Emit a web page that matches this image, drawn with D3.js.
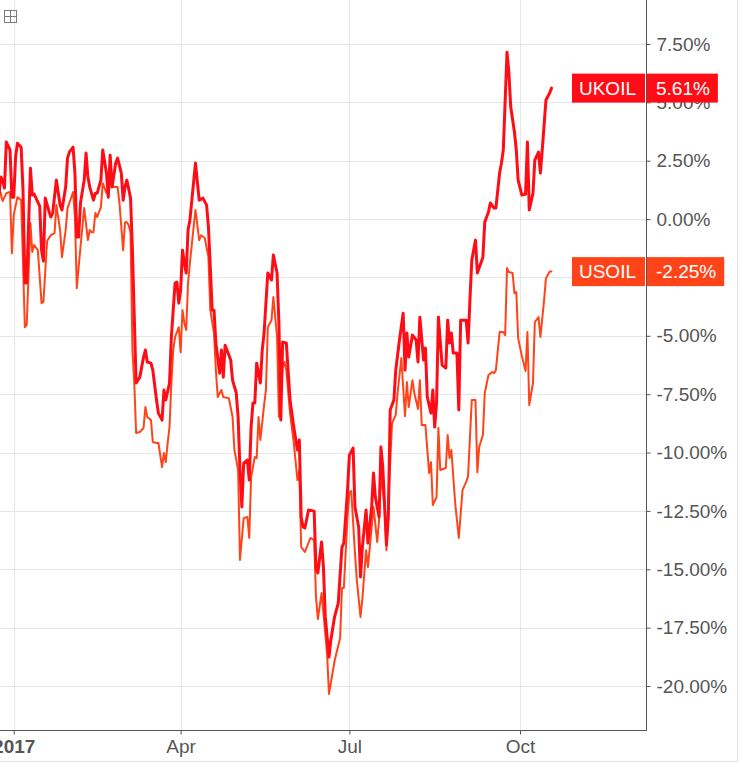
<!DOCTYPE html>
<html><head><meta charset="utf-8">
<script src="https://cdn.jsdelivr.net/npm/d3@7"></script>
<style>
html,body{margin:0;padding:0;background:#fff;}
svg{display:block;font-family:"Liberation Sans",Arial,sans-serif;}
</style></head><body>
<svg id="chart" width="739" height="763"></svg>
<script>
// ---------- DATA (percent change) ----------
const seriesNames = ["UKOIL", "USOIL"];
const seriesColors = ["#ff0d16", "#ff4419"];
const lastValueLabels = ["5.61%", "-2.25%"];

const ukDates = ["2016-12-23","2016-12-25","2016-12-26","2016-12-27","2016-12-28","2016-12-30","2016-12-31","2017-01-01","2017-01-02","2017-01-03","2017-01-05","2017-01-06","2017-01-07","2017-01-08","2017-01-10","2017-01-11","2017-01-12","2017-01-14","2017-01-15","2017-01-16","2017-01-17","2017-01-18","2017-01-20","2017-01-21","2017-01-22","2017-01-24","2017-01-26","2017-01-27","2017-01-29","2017-01-30","2017-01-31","2017-02-02","2017-02-03","2017-02-04","2017-02-05","2017-02-06","2017-02-08","2017-02-09","2017-02-10","2017-02-11","2017-02-13","2017-02-14","2017-02-15","2017-02-17","2017-02-18","2017-02-20","2017-02-21","2017-02-22","2017-02-23","2017-02-25","2017-02-26","2017-02-28","2017-03-01","2017-03-02","2017-03-03","2017-03-05","2017-03-06","2017-03-07","2017-03-08","2017-03-10","2017-03-12","2017-03-13","2017-03-14","2017-03-16","2017-03-17","2017-03-19","2017-03-20","2017-03-22","2017-03-23","2017-03-24","2017-03-26","2017-03-27","2017-03-28","2017-03-29","2017-03-30","2017-03-31","2017-04-01","2017-04-02","2017-04-03","2017-04-04","2017-04-05","2017-04-06","2017-04-08","2017-04-09","2017-04-11","2017-04-13","2017-04-15","2017-04-16","2017-04-17","2017-04-18","2017-04-19","2017-04-20","2017-04-22","2017-04-23","2017-04-24","2017-04-25","2017-04-28","2017-04-29","2017-05-01","2017-05-02","2017-05-03","2017-05-04","2017-05-05","2017-05-07","2017-05-08","2017-05-09","2017-05-10","2017-05-11","2017-05-12","2017-05-14","2017-05-15","2017-05-16","2017-05-18","2017-05-20","2017-05-21","2017-05-23","2017-05-24","2017-05-25","2017-05-26","2017-05-28","2017-05-30","2017-06-01","2017-06-03","2017-06-04","2017-06-05","2017-06-06","2017-06-07","2017-06-09","2017-06-12","2017-06-13","2017-06-14","2017-06-16","2017-06-17","2017-06-18","2017-06-20","2017-06-21","2017-06-23","2017-06-25","2017-06-27","2017-06-28","2017-06-30","2017-07-01","2017-07-03","2017-07-04","2017-07-06","2017-07-07","2017-07-08","2017-07-10","2017-07-11","2017-07-13","2017-07-14","2017-07-15","2017-07-17","2017-07-18","2017-07-19","2017-07-21","2017-07-22","2017-07-23","2017-07-25","2017-07-26","2017-07-28","2017-07-30","2017-07-31","2017-08-01","2017-08-02","2017-08-04","2017-08-06","2017-08-07","2017-08-08","2017-08-10","2017-08-11","2017-08-12","2017-08-14","2017-08-15","2017-08-16","2017-08-17","2017-08-18","2017-08-20","2017-08-22","2017-08-23","2017-08-24","2017-08-25","2017-08-26","2017-08-28","2017-08-29","2017-08-30","2017-09-02","2017-09-03","2017-09-04","2017-09-05","2017-09-07","2017-09-08","2017-09-11","2017-09-12","2017-09-14","2017-09-15","2017-09-17","2017-09-18","2017-09-20","2017-09-21","2017-09-22","2017-09-24","2017-09-25","2017-09-26","2017-09-28","2017-09-29","2017-09-30","2017-10-02","2017-10-04","2017-10-05","2017-10-06","2017-10-08","2017-10-09","2017-10-11","2017-10-12","2017-10-13","2017-10-15","2017-10-17","2017-10-18"];
const ukValues = [0.17,1.80,1.67,1.33,3.30,2.96,0.94,0.94,2.66,3.25,3.08,1.24,-2.74,-2.74,2.18,1.03,1.07,0.73,0.56,-1.33,-1.80,0.90,0.34,0.09,0.26,1.67,0.60,0.39,1.37,2.61,2.87,3.08,1.97,-0.77,-0.77,0.69,1.67,2.83,1.80,1.37,0.81,1.11,1.11,1.67,2.96,1.97,0.94,2.74,1.37,2.40,2.61,1.97,0.81,1.37,1.67,0.90,-1.33,-4.20,-7.02,-6.77,-5.91,-5.61,-6.12,-6.17,-6.47,-7.75,-8.31,-8.61,-7.32,-7.75,-7.02,-5.05,-3.90,-2.74,-2.70,-3.60,-3.04,-1.33,-1.88,-2.31,-0.47,-0.04,1.58,2.40,0.81,0.90,0.60,-0.34,-2.06,-3.90,-3.90,-5.31,-6.60,-5.61,-6.77,-5.40,-6.04,-6.90,-7.45,-8.48,-10.75,-12.33,-10.45,-10.32,-11.18,-8.91,-7.88,-7.88,-6.17,-7.02,-5.61,-4.88,-2.31,-2.61,-1.54,-2.31,-4.45,-8.61,-5.27,-5.31,-7.75,-8.91,-9.89,-9.46,-12.76,-13.19,-13.23,-12.46,-12.51,-14.95,-15.16,-13.83,-14.90,-17.04,-18.76,-18.03,-17.04,-16.45,-14.05,-13.88,-11.61,-10.11,-9.81,-12.33,-13.19,-15.33,-14.05,-12.46,-13.88,-12.33,-10.88,-11.91,-12.76,-9.76,-10.62,-13.96,-12.76,-8.18,-7.75,-6.47,-5.18,-4.03,-6.47,-4.88,-5.91,-4.97,-5.18,-6.12,-4.20,-6.04,-5.52,-7.62,-8.31,-7.32,-8.91,-7.88,-4.20,-6.25,-6.38,-4.33,-5.31,-4.88,-5.74,-5.74,-8.18,-4.33,-4.33,-5.31,-3.47,-1.76,-0.90,-2.31,-1.63,-0.13,0.30,0.69,0.47,0.47,1.97,2.40,2.96,7.15,6.30,4.80,3.73,2.96,1.67,1.03,1.07,3.30,0.39,1.11,2.53,2.87,1.97,2.96,5.10,5.40,5.61];

const usDates = ["2016-12-23","2016-12-25","2016-12-26","2016-12-28","2016-12-30","2016-12-31","2017-01-01","2017-01-03","2017-01-05","2017-01-06","2017-01-07","2017-01-08","2017-01-10","2017-01-11","2017-01-12","2017-01-14","2017-01-16","2017-01-17","2017-01-19","2017-01-20","2017-01-21","2017-01-23","2017-01-24","2017-01-26","2017-01-27","2017-01-29","2017-01-30","2017-01-31","2017-02-02","2017-02-03","2017-02-04","2017-02-05","2017-02-07","2017-02-08","2017-02-10","2017-02-11","2017-02-12","2017-02-13","2017-02-14","2017-02-15","2017-02-17","2017-02-18","2017-02-20","2017-02-21","2017-02-22","2017-02-24","2017-02-26","2017-02-27","2017-03-01","2017-03-02","2017-03-03","2017-03-04","2017-03-05","2017-03-06","2017-03-07","2017-03-08","2017-03-10","2017-03-12","2017-03-13","2017-03-14","2017-03-16","2017-03-17","2017-03-19","2017-03-20","2017-03-22","2017-03-23","2017-03-24","2017-03-25","2017-03-26","2017-03-27","2017-03-28","2017-03-29","2017-03-31","2017-04-01","2017-04-02","2017-04-03","2017-04-04","2017-04-05","2017-04-06","2017-04-08","2017-04-09","2017-04-11","2017-04-12","2017-04-14","2017-04-16","2017-04-17","2017-04-19","2017-04-20","2017-04-21","2017-04-23","2017-04-24","2017-04-27","2017-04-29","2017-04-30","2017-05-02","2017-05-03","2017-05-05","2017-05-07","2017-05-08","2017-05-09","2017-05-11","2017-05-12","2017-05-13","2017-05-14","2017-05-16","2017-05-17","2017-05-18","2017-05-20","2017-05-21","2017-05-23","2017-05-24","2017-05-26","2017-05-27","2017-05-28","2017-05-30","2017-06-01","2017-06-03","2017-06-04","2017-06-05","2017-06-07","2017-06-10","2017-06-12","2017-06-13","2017-06-14","2017-06-16","2017-06-17","2017-06-19","2017-06-20","2017-06-21","2017-06-23","2017-06-26","2017-06-27","2017-06-28","2017-06-30","2017-07-01","2017-07-02","2017-07-04","2017-07-05","2017-07-07","2017-07-08","2017-07-10","2017-07-11","2017-07-13","2017-07-14","2017-07-16","2017-07-17","2017-07-18","2017-07-20","2017-07-21","2017-07-22","2017-07-24","2017-07-26","2017-07-27","2017-07-29","2017-07-31","2017-08-01","2017-08-02","2017-08-04","2017-08-05","2017-08-07","2017-08-08","2017-08-09","2017-08-11","2017-08-13","2017-08-14","2017-08-15","2017-08-17","2017-08-18","2017-08-19","2017-08-22","2017-08-23","2017-08-24","2017-08-25","2017-08-27","2017-08-28","2017-08-29","2017-08-31","2017-09-02","2017-09-03","2017-09-05","2017-09-07","2017-09-08","2017-09-09","2017-09-11","2017-09-12","2017-09-14","2017-09-16","2017-09-17","2017-09-18","2017-09-20","2017-09-22","2017-09-23","2017-09-24","2017-09-25","2017-09-27","2017-09-28","2017-09-29","2017-09-30","2017-10-02","2017-10-04","2017-10-05","2017-10-06","2017-10-08","2017-10-09","2017-10-11","2017-10-12","2017-10-14","2017-10-15","2017-10-17","2017-10-18"];
const usValues = [1.46,1.11,0.77,1.11,1.16,-1.46,0.17,0.94,0.81,-1.88,-4.63,-4.54,-0.17,-1.41,-1.11,-1.33,-3.60,-3.55,-0.94,-0.81,-0.69,-0.60,0.60,-0.47,-1.63,-0.47,0.47,0.69,1.16,0.09,-2.96,-2.06,-0.34,0.47,-0.90,-0.47,-0.56,-0.56,0.26,0.09,0.51,1.54,1.11,1.37,1.67,1.37,1.37,0.69,-1.33,-0.13,-0.13,-0.26,-0.60,-5.61,-7.02,-9.16,-9.12,-8.95,-8.05,-8.48,-8.61,-9.55,-9.59,-9.59,-10.62,-10.02,-10.41,-9.59,-8.91,-7.02,-5.61,-5.05,-4.63,-5.70,-3.90,-4.45,-4.75,-2.74,-1.88,-0.34,0.39,-0.90,-0.69,-0.81,-1.63,-3.90,-4.88,-6.47,-7.62,-7.32,-7.62,-7.67,-8.48,-9.89,-10.75,-14.60,-12.81,-12.76,-13.66,-11.05,-10.19,-10.24,-8.48,-9.46,-7.97,-7.32,-4.63,-4.33,-3.34,-5.05,-8.48,-6.34,-6.12,-6.47,-8.31,-9.59,-11.18,-10.75,-14.05,-14.26,-13.66,-13.75,-16.19,-17.13,-16.02,-16.87,-18.67,-20.34,-19.87,-18.93,-17.94,-15.80,-15.80,-12.76,-11.69,-11.65,-14.30,-15.46,-17.04,-16.27,-14.18,-14.90,-13.23,-12.33,-13.83,-12.89,-10.88,-12.33,-14.18,-12.16,-8.74,-8.39,-7.45,-5.95,-8.44,-6.98,-8.05,-6.90,-7.45,-8.14,-6.90,-8.82,-8.82,-10.88,-10.41,-12.25,-11.91,-8.95,-10.75,-10.66,-9.25,-10.24,-9.89,-12.12,-12.89,-13.66,-11.61,-11.26,-11.01,-7.75,-7.75,-10.84,-9.76,-9.25,-7.45,-6.68,-6.55,-6.60,-6.47,-4.84,-4.84,-4.97,-2.10,-2.27,-2.31,-3.17,-3.13,-5.10,-5.87,-6.51,-4.84,-7.97,-7.02,-4.41,-4.20,-5.05,-3.47,-2.53,-2.25,-2.25];

const yTickValues = [7.5, 5, 2.5, 0, -2.5, -5, -7.5, -10, -12.5, -15, -17.5, -20];
const xTickDates = ["2017-01-01", "2017-04-01", "2017-07-01", "2017-10-01"];
const xTickLabels = ["2017", "Apr", "Jul", "Oct"];
const xDomain = ["2016-12-24", "2017-12-08"];
const yDomain = [-20, 7.5];

// ---------- LAYOUT ----------
const plotRight = 646, plotBottom = 730;
const parse = d3.timeParse("%Y-%m-%d");
const x = d3.scaleTime().domain(xDomain.map(parse)).range([-1.1, 646.1]);
const y = d3.scaleLinear().domain(yDomain).range([686, 44]);

const svg = d3.select("#chart");
const gridColor = "#e6e6e6", axisColor = "#555", textColor = "#555";

// outer frame (right / bottom)
svg.append("line").attr("x1", 737.5).attr("x2", 737.5).attr("y1", 0).attr("y2", 762)
  .attr("stroke", "#e3e3e3");
svg.append("line").attr("x1", 0).attr("x2", 738).attr("y1", 761.5).attr("y2", 761.5)
  .attr("stroke", "#e3e3e3");

// grid
svg.append("g").selectAll("line").data(yTickValues).join("line")
  .attr("x1", 0).attr("x2", plotRight)
  .attr("y1", d => Math.round(y(d)) + 0.5).attr("y2", d => Math.round(y(d)) + 0.5)
  .attr("stroke", gridColor);
svg.append("g").selectAll("line").data(xTickDates).join("line")
  .attr("y1", 0).attr("y2", plotBottom)
  .attr("x1", d => Math.round(x(parse(d))) + 0.5).attr("x2", d => Math.round(x(parse(d))) + 0.5)
  .attr("stroke", gridColor);

// icon top-left
const icon = svg.append("g").attr("stroke", "#7a7a7a").attr("fill", "none");
icon.append("rect").attr("x", 4.5).attr("y", 10.5).attr("width", 12).attr("height", 12);
icon.append("line").attr("x1", 4.5).attr("x2", 16.5).attr("y1", 16.5).attr("y2", 16.5);
icon.append("line").attr("x1", 10.5).attr("x2", 10.5).attr("y1", 10.5).attr("y2", 22.5);

// clip
svg.append("clipPath").attr("id", "plotclip").append("rect")
  .attr("x", 0).attr("y", 0).attr("width", plotRight).attr("height", plotBottom);

const series = [
  { name: seriesNames[0], color: seriesColors[0], width: 3, label: lastValueLabels[0],
    data: ukDates.map((d, i) => ({ date: parse(d), value: ukValues[i] })) },
  { name: seriesNames[1], color: seriesColors[1], width: 2, label: lastValueLabels[1],
    data: usDates.map((d, i) => ({ date: parse(d), value: usValues[i] })) }
];

const line = d3.line().x(d => x(d.date)).y(d => y(d.value));
const lines = svg.append("g").attr("clip-path", "url(#plotclip)");
[series[1], series[0]].forEach(s => {
  lines.append("path").datum(s.data)
    .attr("fill", "none").attr("stroke", s.color).attr("stroke-width", s.width)
    .attr("stroke-linejoin", "round").attr("stroke-linecap", "round")
    .attr("d", line);
});

// axes
const yAxis = d3.axisRight(y).tickValues(yTickValues)
  .tickFormat(d => d.toFixed(2) + "%").tickSize(4).tickPadding(6);
const gy = svg.append("g").attr("transform", `translate(${plotRight + 0.5},0)`).call(yAxis);
gy.select(".domain").remove();
gy.selectAll(".tick line").attr("stroke", axisColor);
gy.selectAll(".tick text").attr("fill", textColor).style("font-size", "19px")
  .style("font-family", "'Liberation Sans', Arial, sans-serif");

const xAxis = d3.axisBottom(x).tickValues(xTickDates.map(parse))
  .tickFormat((d, i) => xTickLabels[i]).tickSize(4).tickPadding(5);
const gx = svg.append("g").attr("transform", `translate(0,${plotBottom + 0.5})`).call(xAxis);
gx.select(".domain").remove();
gx.selectAll(".tick line").attr("stroke", axisColor);
gx.selectAll(".tick text").attr("fill", textColor).style("font-size", "19px")
  .style("font-family", "'Liberation Sans', Arial, sans-serif")
  .style("font-weight", (d, i) => i === 0 ? "bold" : "normal");

// axis lines
svg.append("line").attr("x1", plotRight + 0.5).attr("x2", plotRight + 0.5)
  .attr("y1", 0).attr("y2", plotBottom + 1).attr("stroke", axisColor);
svg.append("line").attr("x1", 0).attr("x2", plotRight + 1)
  .attr("y1", plotBottom + 0.5).attr("y2", plotBottom + 0.5).attr("stroke", axisColor);

// last-value labels
series.forEach(s => {
  const last = s.data[s.data.length - 1];
  const cy = y(last.value);
  const g = svg.append("g");
  const nameText = g.append("text").text(s.name)
    .attr("fill", "#fff").style("font-size", "19px").attr("text-anchor", "end");
  const valText = g.append("text").text(s.label)
    .attr("fill", "#fff").style("font-size", "19px");
  const nw = nameText.node().getComputedTextLength();
  const vw = valText.node().getComputedTextLength();
  const h = 29;
  g.insert("rect", "text").attr("x", plotRight - 1 - 9 - nw - 7).attr("y", cy - h / 2)
    .attr("width", nw + 16).attr("height", h).attr("fill", s.color);
  g.insert("rect", "text").attr("x", plotRight + 1).attr("y", cy - h / 2)
    .attr("width", 656 - plotRight - 1 + vw + 8).attr("height", h).attr("fill", s.color);
  nameText.attr("x", plotRight - 1 - 9).attr("y", cy).attr("dy", "0.35em");
  valText.attr("x", 656).attr("y", cy).attr("dy", "0.35em");
});
</script>
</body></html>
